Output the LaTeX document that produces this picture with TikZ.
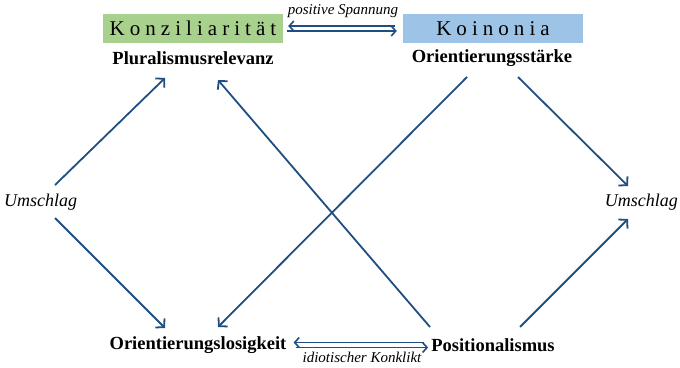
\documentclass[tikz,border=0pt]{standalone}
\usepackage{fontspec}
\setmainfont{Liberation Serif}
\usetikzlibrary{arrows.meta}
\definecolor{arr}{HTML}{1F4E80}
\definecolor{grn}{HTML}{A9D18E}
\definecolor{blu}{HTML}{9DC3E6}
\tikzset{
  box/.style={minimum width=180pt,minimum height=29pt,inner sep=0pt,font=\fontsize{21}{23}\selectfont\addfontfeatures{LetterSpace=24}},
  concept/.style={inner sep=1pt,font=\fontsize{18.5}{20}\selectfont\bfseries},
  side/.style={inner sep=1pt,font=\fontsize{18}{20}\selectfont\itshape},
  lab/.style={inner sep=0pt,font=\fontsize{15}{16}\selectfont\itshape},
  link/.style={draw=arr,line width=1.8pt,-{Straight Barb[length=6pt,width=13pt,line width=1.8pt]}},
  dlink/.style={draw=arr,line width=1.6pt,-{Straight Barb[length=4.5pt,width=10pt,line width=1.6pt]}}
}
\begin{document}
\begin{tikzpicture}[x=1pt,y=-1pt]
\useasboundingbox (0,0) rectangle (680,367);
\node[box,fill=grn] (konz) at (193,28.5) {Konziliarität};
\node[box,fill=blu] (koin) at (493,28.5) {Koinonia};
\node[concept] (plur) at (193,58) {Pluralismusrelevanz};
\node[concept] (orst) at (492,58) {Orientierungsstärke};
\node[concept] (orlo) at (198,345) {Orientierungslosigkeit};
\node[concept] (posi) at (493,345) {Positionalismus};
\node[side,anchor=west] (uml) at (3,202) {Umschlag};
\node[side,anchor=east] (umr) at (679,202) {Umschlag};
\node[lab] (ps) at (343,11) {positive Spannung};
\node[lab] (ik) at (362,357) {idiotischer Konklikt};
% top double arrow
\coordinate (t1) at ([xshift=4pt,yshift=-2.5pt]konz.east);
\coordinate (t2) at ([xshift=-6pt,yshift=-2.5pt]koin.west);
\coordinate (t3) at ([xshift=5pt,yshift=2.5pt]konz.east);
\coordinate (t4) at ([xshift=-8pt,yshift=2.5pt]koin.west);
\draw[dlink] (t1) -- (t2);
\draw[dlink] (t4) -- (t3);
% bottom double arrow
\coordinate (b1) at ([xshift=8pt,yshift=-2.5pt]orlo.east);
\coordinate (b2) at ([xshift=-2pt,yshift=-2.5pt]posi.west);
\coordinate (b3) at ([xshift=6pt,yshift=2.5pt]orlo.east);
\coordinate (b4) at ([xshift=-6pt,yshift=2.5pt]posi.west);
\draw[dlink] (b1) -- (b2);
\draw[dlink] (b4) -- (b3);
% diagonals
\draw[link] (55,185) -- (165,78);
\draw[link] (55,218) -- (165,328);
\draw[link] (430,327) -- (218,80);
\draw[link] (467,77) -- (218,327);
\draw[link] (518,77) -- (628,186);
\draw[link] (520,327) -- (628,219);
\end{tikzpicture}
\end{document}
